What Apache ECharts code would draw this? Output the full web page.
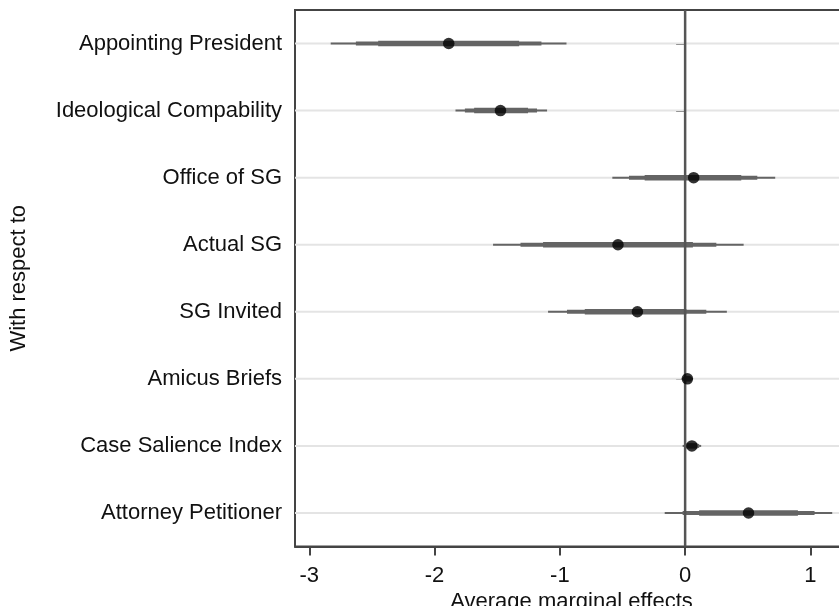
<!DOCTYPE html>
<html>
<head>
<meta charset="utf-8">
<script src="https://cdn.jsdelivr.net/npm/echarts@6/dist/echarts.min.js"></script>
<style>
html,body{margin:0;padding:0;background:#fff;}
#chart{width:839px;height:606px;}
</style>
</head>
<body>
<div id="chart"></div>
<script>
const categories = ['Appointing President','Ideological Compability','Office of SG','Actual SG','SG Invited','Amicus Briefs','Case Salience Index','Attorney Petitioner'];
const estimates  = [-1.887, -1.474, 0.068, -0.536, -0.381, 0.018, 0.054, 0.506];
const outerLow   = [-2.829, -1.833, -0.581, -1.533, -1.094, -0.027, -0.020, -0.163];
const outerHigh  = [-0.947, -1.102, 0.719, 0.467, 0.333, 0.063, 0.128, 1.174];
const midLow     = [-2.628, -1.758, -0.448, -1.314, -0.943, -0.017, -0.004, -0.020];
const midHigh    = [-1.147, -1.182, 0.576, 0.249, 0.169, 0.053, 0.112, 1.033];
const innerLow   = [-2.450, -1.684, -0.323, -1.134, -0.801, -0.008, 0.010, 0.112];
const innerHigh  = [-1.325, -1.254, 0.448, 0.062, 0.010, 0.044, 0.098, 0.900];
const xTicks = [-3, -2, -1, 0, 1];
const referenceLine = [0];
const X_MIN = -3.114, X_MAX = 1.3;

const FONT = "'Liberation Sans', Arial, Helvetica, sans-serif";
const chart = echarts.init(document.getElementById('chart'), null, {renderer: 'canvas'});

function intervalSeries(name, lows, highs, width, z) {
  return {
    name: name,
    type: 'custom',
    z: z,
    silent: true,
    encode: {x: [0, 1], y: 2},
    data: categories.map((c, i) => [lows[i], highs[i], i]),
    renderItem: function (params, api) {
      const a = api.coord([api.value(0), api.value(2)]);
      const b = api.coord([api.value(1), api.value(2)]);
      return {
        type: 'line',
        shape: {x1: a[0], y1: a[1], x2: b[0], y2: b[1]},
        style: {stroke: '#646464', lineWidth: width}
      };
    }
  };
}

const option = {
  animation: false,
  backgroundColor: '#fff',
  textStyle: {fontFamily: FONT},
  grid: {
    left: 295, top: 10, right: -9, bottom: 59.5,
    outerBoundsMode: 'none',
    containLabel: false,
    show: true, borderColor: '#444', borderWidth: 2, backgroundColor: '#fff'
  },
  xAxis: {
    type: 'value',
    min: X_MIN, max: X_MAX,
    name: 'Average marginal effects',
    nameLocation: 'middle',
    nameGap: 39,
    nameTextStyle: {fontSize: 22, color: '#111', fontFamily: FONT},
    axisLine: {show: true, onZero: false, lineStyle: {color: '#444', width: 2}},
    axisTick: {show: true, length: 9, customValues: xTicks, lineStyle: {color: '#444', width: 2}},
    axisLabel: {fontSize: 22, color: '#111', margin: 18, fontFamily: FONT, customValues: xTicks},
    splitLine: {show: false},
    axisPointer: {show: false}
  },
  yAxis: {
    type: 'category',
    data: categories,
    inverse: true,
    boundaryGap: true,
    name: 'With respect to',
    nameLocation: 'middle',
    nameGap: 265,
    nameTextStyle: {fontSize: 22, color: '#111', fontFamily: FONT},
    axisLine: {show: true, lineStyle: {color: '#444', width: 2}},
    axisTick: {show: true, alignWithLabel: true, length: 9, lineStyle: {color: '#444', width: 2}},
    axisLabel: {fontSize: 22, color: '#111', margin: 13, fontFamily: FONT},
    splitLine: {show: false},
    axisPointer: {show: false}
  },
  series: [
    {
      name: 'gridlines',
      type: 'custom',
      z: 1,
      silent: true,
      encode: {x: [0, 1], y: 2},
      data: categories.map((c, i) => [X_MIN, X_MAX, i]),
      renderItem: function (params, api) {
        const a = api.coord([api.value(0), api.value(2)]);
        const b = api.coord([api.value(1), api.value(2)]);
        return {
          type: 'line',
          shape: {x1: a[0], y1: a[1], x2: b[0], y2: b[1]},
          style: {stroke: '#e4e4e4', lineWidth: 2}
        };
      }
    },
    intervalSeries('outer', outerLow, outerHigh, 2, 2),
    intervalSeries('mid', midLow, midHigh, 4, 2),
    intervalSeries('inner', innerLow, innerHigh, 5.5, 2),
    {
      name: 'zero',
      type: 'custom',
      z: 3,
      silent: true,
      encode: {x: 0},
      data: referenceLine.map(v => [v]),
      renderItem: function (params, api) {
        const cs = params.coordSys;
        const p = api.coord([api.value(0), 0]);
        return {
          type: 'line',
          shape: {x1: p[0], y1: cs.y, x2: p[0], y2: cs.y + cs.height},
          style: {stroke: '#555', lineWidth: 2.5}
        };
      }
    },
    {
      name: 'estimates',
      type: 'scatter',
      z: 4,
      symbol: 'circle',
      symbolSize: 11.5,
      itemStyle: {color: '#000'},
      data: categories.map((c, i) => [estimates[i], i])
    }
  ]
};
chart.setOption(option);
</script>
</body>
</html>
